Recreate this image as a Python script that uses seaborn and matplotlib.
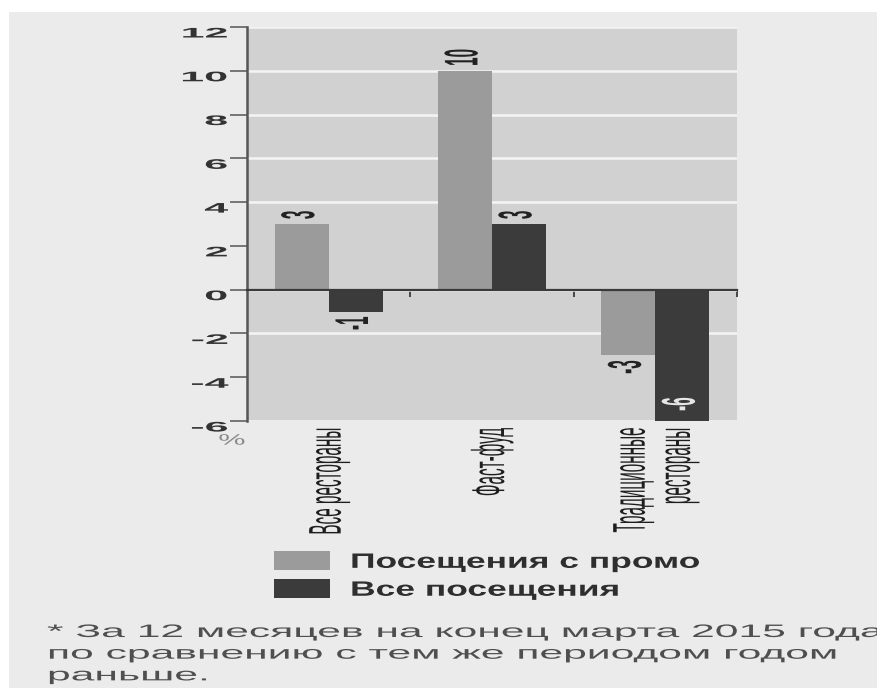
import matplotlib
matplotlib.use("Agg")
import matplotlib.pyplot as plt
import pandas as pd
import seaborn as sns
from matplotlib.patheffects import AbstractPathEffect
from matplotlib.transforms import Affine2D, ScaledTranslation, blended_transform_factory
from matplotlib.patches import Rectangle

# ---- data -------------------------------------------------------------
categories = ["Все рестораны", "Фаст-фуд", "Традиционные\nрестораны"]
series_names = ["Посещения с промо", "Все посещения"]
promo_visits = [3, 10, -3]
all_visits = [-1, 3, -6]
y_ticks = [-6, -4, -2, 0, 2, 4, 6, 8, 10, 12]
unit_label = "%"
footnote = ("* За 12 месяцев на конец марта 2015 года\n"
            "по сравнению с тем же периодом годом\n"
            "раньше.")

df = pd.DataFrame({
    "category": categories * 2,
    "series": [series_names[0]] * len(categories) + [series_names[1]] * len(categories),
    "value": promo_visits + all_visits,
})

palette = ["#9b9b9b", "#3b3b3b"]


class Widen(AbstractPathEffect):
    """Draw a text stretched horizontally about its anchor point."""

    def __init__(self, text, factor):
        super().__init__()
        self.text = text
        self.factor = factor

    def draw_path(self, renderer, gc, tpath, affine, rgbFace=None):
        t = self.text
        px = t.get_transform().transform(t.get_unitless_position())[0]
        stretch = Affine2D().translate(-px, 0).scale(self.factor, 1).translate(px, 0)
        renderer.draw_path(gc, tpath, affine + stretch, rgbFace)


def widen(text, factor):
    text.set_path_effects([Widen(text, factor)])
    return text


# ---- figure -----------------------------------------------------------
sns.set_theme(style="white")
plt.rcParams["font.family"] = ["Liberation Sans", "DejaVu Sans"]
plt.rcParams["axes.unicode_minus"] = False

W, H = 877, 688
fig = plt.figure(figsize=(W / 100, H / 100), dpi=100, facecolor="white")
fig.patches.append(Rectangle((9 / W, 0), 1 - 9 / W, 1 - 12 / H, transform=fig.transFigure,
                             facecolor="#ebebeb", edgecolor="none", zorder=-10))

ax = fig.add_axes([247 / W, 1 - 421 / H, (737 - 247) / W, (421 - 27) / H])
ax.set_facecolor("#d1d1d1")

sns.barplot(data=df, x="category", y="value", hue="series", hue_order=series_names,
            palette=palette, saturation=1, width=0.66, errorbar=None, linewidth=0,
            ax=ax)

ax.set_xlabel("")
ax.set_ylabel("")
ax.set_ylim(y_ticks[0], y_ticks[-1])
ax.set_xlim(-0.5, len(categories) - 0.5)
ax.set_yticks(y_ticks)

# horizontal white grid
ax.set_axisbelow(True)
ax.yaxis.grid(True, color="#f4f4f4", linewidth=1.8)
for tick in ax.yaxis.get_major_ticks():
    if tick.get_loc() in (y_ticks[0], 0, y_ticks[-1]):
        tick.gridline.set_visible(False)

# spines
for side in ("top", "right"):
    ax.spines[side].set_visible(False)
ax.spines["left"].set_color("#555555")
ax.spines["left"].set_linewidth(1.8)
ax.spines["bottom"].set_position(("data", 0))
ax.spines["bottom"].set_color("#3a3a3a")
ax.spines["bottom"].set_linewidth(1.6)

# y ticks
ax.tick_params(axis="y", direction="out", length=12, width=1.1, color="#555555",
               pad=1.5, labelsize=10, labelcolor="#333333", left=True)
shift = ScaledTranslation(0, -5 / 100, fig.dpi_scale_trans)
for lab in ax.get_yticklabels():
    lab.set_fontweight("bold")
    lab.set_transform(lab.get_transform() + shift)
    widen(lab, 3.1)

# x ticks: small marks at category boundaries on the zero line
ax.set_xticks(range(len(categories)))
ax.set_xticks([i + 0.5 for i in range(len(categories))], minor=True)
ax.tick_params(axis="x", which="major", length=0, labelbottom=False)
ax.tick_params(axis="x", which="minor", direction="out", length=5, width=1.3,
               color="#3a3a3a", bottom=True)

# category names under the plot
lab_trans = blended_transform_factory(ax.transData, ax.transAxes) + \
    ScaledTranslation(0, -7 / 100, fig.dpi_scale_trans)
for i, name in enumerate(categories):
    t = ax.text(i, 0, name, transform=lab_trans, rotation=90, ha="center", va="top",
                fontsize=11, color="#1e1e1e", multialignment="right", linespacing=1.1)
    widen(t, 3.0)

# value labels
for cont, vals in zip(ax.containers, [promo_visits, all_visits]):
    outside = [f"{v:g}" if v > y_ticks[0] else "" for v in vals]
    inside = [f"{v:g}" if v <= y_ticks[0] else "" for v in vals]
    for t in ax.bar_label(cont, labels=outside, rotation=90, padding=3.5,
                          fontsize=11, fontweight="bold", color="#222222"):
        widen(t, 3.1)
    for t in ax.bar_label(cont, labels=inside, rotation=90, padding=-17,
                          fontsize=11, fontweight="bold", color="#e6e6e6"):
        widen(t, 3.1)

# unit sign at the lower left corner
widen(ax.text(-0.031, -0.05, unit_label, transform=ax.transAxes, ha="center",
              va="center", fontsize=11, color="#8a8a8a"), 2.0)

# legend
handles, labels = ax.get_legend_handles_labels()
if ax.get_legend() is not None:
    ax.get_legend().remove()
leg = fig.legend(handles, labels, loc="upper left", bbox_to_anchor=(274 / W, 1 - 551 / H),
                 frameon=False, fontsize=15, handlelength=2.7, handleheight=1.06,
                 handletextpad=0.95, labelspacing=0.34, borderpad=0, borderaxespad=0)
for t in leg.get_texts():
    t.set_fontweight("bold")
    t.set_color("#2e2e2e")
    widen(t, 1.7)

# footnote
widen(fig.text(47 / W, 1 - 624 / H, footnote, ha="left", va="top", fontsize=13,
               color="#4f4f4f", linespacing=1.36), 2.36)

fig.savefig("out.png", dpi=100, facecolor=fig.get_facecolor())
